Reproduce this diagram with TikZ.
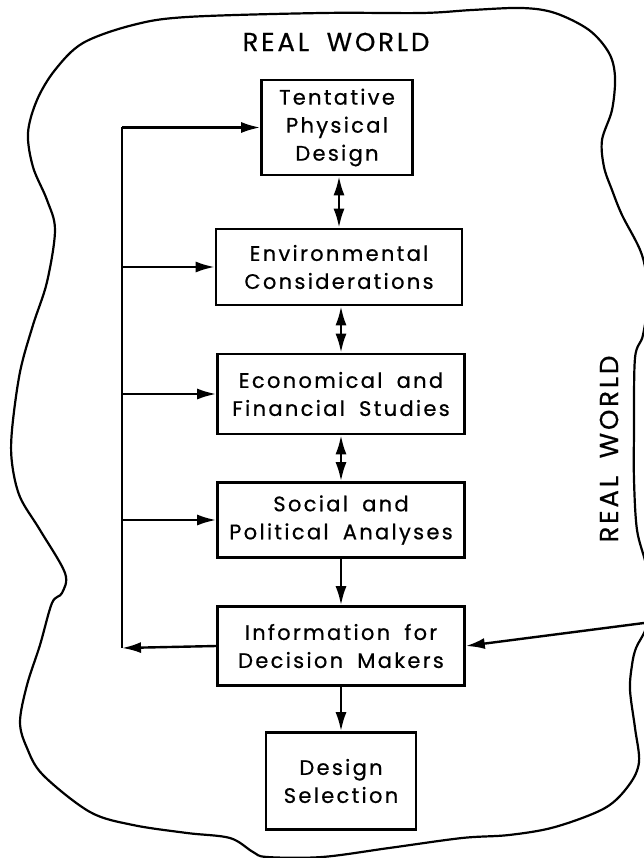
\documentclass[tikz,border=0pt]{standalone}
\usepackage{fontspec}
\setmainfont{Poppins}[LetterSpace=11,WordSpace=1.8,FakeBold=0.6]
\usetikzlibrary{arrows.meta}
\tikzset{
  blk/.style={draw, line width=2.6pt, align=center, inner sep=0pt,
    font=\fontsize{21}{28}\selectfont},
  >={Latex[length=19pt,width=11pt]}
}
\begin{document}
\begin{tikzpicture}[x=1pt,y=-1pt,line width=2.4pt]
  \useasboundingbox (0,0) rectangle (644,858);
  % the real world round it all
  \begin{scope}
    \clip (0,0) rectangle (644,858);
    \draw[line width=2.2pt] plot[smooth cycle,tension=0.55] coordinates {
      (322,13) (422,13) (472,10) (522,8) (555,13) (589,30) (609,53)
      (615,77) (612,110) (602,140) (604,167) (612,190) (622,215)
      (642,255) (648,295) (643,335) (635,358) (634,430) (634,480)
      (637,530) (646,565) (650,600) (646,628) (636,648) (632,665)
      (630,690) (635,728) (639,762) (629,785) (605,808) (555,827)
      (509,835) (462,838) (389,848) (322,857) (267,857) (253,852)
      (230,838) (187,833) (133,825) (90,812) (43,775) (27,748)
      (20,722) (27,685) (40,645) (52,603) (62,593) (65,573) (40,530)
      (20,497) (12,463) (12,430) (20,372) (33,325) (47,282) (55,230)
      (47,200) (33,167) (28,133) (37,100) (55,70) (83,43)
      (133,25) (187,17)};
  \end{scope}
  \node (rwtop) at (336,42) {\fontsize{26}{30}\selectfont REAL WORLD};
  \node[rotate=90] (rwside) at (609,449) {\fontsize{26}{30}\selectfont REAL WORLD};

  % boxes
  \node[blk,minimum width=151pt,minimum height=95pt] (des) at (337,127.5) {Tentative\\Physical\\Design};
  \node[blk,minimum width=246pt,minimum height=76pt] (env) at (339,267) {Environmental\\Considerations};
  \node[blk,minimum width=247pt,minimum height=80pt] (eco) at (341,394) {Economical and\\Financial Studies};
  \node[blk,minimum width=247pt,minimum height=75pt] (soc) at (341,520) {Social and\\Political Analyses};
  \node[blk,minimum width=247pt,minimum height=79pt] (info) at (341,646) {Information for\\Decision Makers};
  \node[blk,minimum width=150pt,minimum height=97pt] (sel) at (341,781) {Design\\Selection};

  \coordinate (fb) at (122,648);
  \coordinate (rw) at (644,623);

  % arrows
  \foreach \a/\b in {des/env,env/eco,eco/soc}
    \draw[<->] (\b.north |- \a.south) -- (\b.north);
  \draw[->] (soc.south) -- (info.north);
  \draw[->] (info.south) -- (sel.north);
  \draw[->] (info.west) -- (fb);
  \draw (fb) -- (fb |- des.west);
  \foreach \b in {des,env,eco,soc}
    \draw[->] (fb |- \b.west) -- (\b.west);
  \draw[->] (rw) -- (info.east);
\end{tikzpicture}
\end{document}
